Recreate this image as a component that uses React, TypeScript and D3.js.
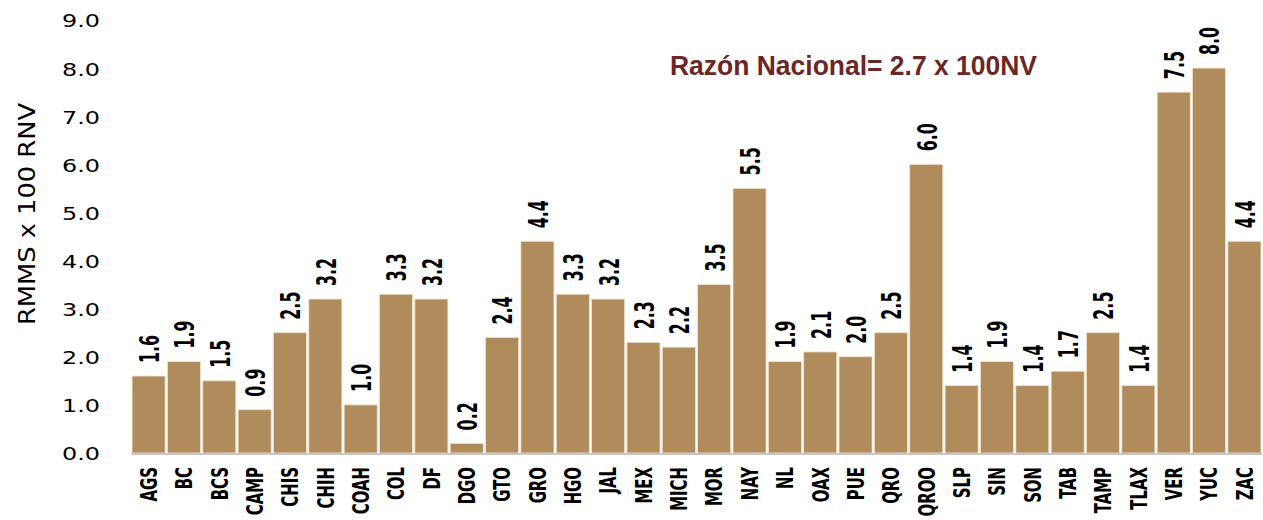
import React, { useEffect, useRef } from "react";
import * as d3 from "d3";

// estados y razón de mortalidad materna
const estados = [
  "AGS", "BC", "BCS", "CAMP", "CHIS", "CHIH", "COAH", "COL", "DF", "DGO", "GTO",
  "GRO", "HGO", "JAL", "MEX", "MICH", "MOR", "NAY", "NL", "OAX", "PUE", "QRO",
  "QROO", "SLP", "SIN", "SON", "TAB", "TAMP", "TLAX", "VER", "YUC", "ZAC",
];
const razon = [
  1.6, 1.9, 1.5, 0.9, 2.5, 3.2, 1.0, 3.3, 3.2, 0.2, 2.4,
  4.4, 3.3, 3.2, 2.3, 2.2, 3.5, 5.5, 1.9, 2.1, 2.0, 2.5,
  6.0, 1.4, 1.9, 1.4, 1.7, 2.5, 1.4, 7.5, 8.0, 4.4,
];
const yTicks = [0, 1, 2, 3, 4, 5, 6, 7, 8, 9];
const titulo = "Razón Nacional= 2.7 x 100NV";
const yTitulo = "RMMS x 100 RNV";

const W = 1263, H = 520;
const NARROW = "'DejaVu Sans Condensed', 'Liberation Sans Narrow', sans-serif";

export default function App() {
  const ref = useRef<SVGSVGElement>(null);

  useEffect(() => {
    const svg = d3.select(ref.current);
    svg.selectAll("*").remove();

    const x = d3.scaleBand<string>().domain(estados).range([131, 1262]).paddingInner(0.065).paddingOuter(0.03);
    const y = d3.scaleLinear().domain([0, 9]).range([453, 20]);

    // barras
    svg.append("g")
      .selectAll("rect")
      .data(estados)
      .enter().append("rect")
      .attr("x", (d) => x(d)!)
      .attr("width", x.bandwidth())
      .attr("y", (d, i) => y(razon[i]))
      .attr("height", (d, i) => y(0) - y(razon[i]))
      .attr("fill", "#B08C5C")
      .attr("stroke", "#EFE2CC")
      .attr("stroke-width", 0.8);

    // línea base
    svg.append("line")
      .attr("x1", 131).attr("x2", 1262)
      .attr("y1", y(0) + 1).attr("y2", y(0) + 1)
      .attr("stroke", "#C6C6C6").attr("stroke-width", 2);

    // ticks eje y
    svg.append("g")
      .selectAll("text")
      .data(yTicks)
      .enter().append("text")
      .attr("x", 100)
      .attr("y", (d) => y(d) + 1)
      .attr("dy", "0.36em")
      .attr("text-anchor", "end")
      .attr("font-family", "'DejaVu Sans', Verdana, sans-serif")
      .attr("font-size", 18)
      .attr("textLength", 38)
      .attr("lengthAdjust", "spacingAndGlyphs")
      .attr("fill", "#000")
      .text((d) => d.toFixed(1));

    // titulo eje y
    svg.append("text")
      .attr("transform", "translate(35,214) rotate(-90)")
      .attr("text-anchor", "middle")
      .attr("font-family", NARROW)
      .attr("font-size", 23)
      .attr("textLength", 222)
      .attr("lengthAdjust", "spacingAndGlyphs")
      .attr("fill", "#000")
      .text(yTitulo);

    // etiquetas eje x
    svg.append("g")
      .selectAll("text")
      .data(estados)
      .enter().append("text")
      .attr("transform", (d) => `translate(${x(d)! + x.bandwidth() / 2},467) rotate(-90) scale(0.72,1)`)
      .attr("dy", "0.36em")
      .attr("text-anchor", "end")
      .attr("font-family", NARROW)
      .attr("font-weight", "bold")
      .attr("font-size", 23)
      .attr("fill", "#000")
      .text((d) => d);

    // valores
    svg.append("g")
      .selectAll("text")
      .data(estados)
      .enter().append("text")
      .attr("transform", (d, i) => `translate(${x(d)! + x.bandwidth() / 2 + 1},${y(razon[i]) - 13}) rotate(-90) scale(0.68,1)`)
      .attr("dy", "0.36em")
      .attr("text-anchor", "start")
      .attr("font-family", NARROW)
      .attr("font-weight", "bold")
      .attr("font-size", 26)
      .attr("fill", "#000")
      .text((d, i) => razon[i].toFixed(1));

    // razón nacional
    svg.append("text")
      .attr("x", 670)
      .attr("y", 75)
      .attr("font-family", "'Liberation Sans', Arial, sans-serif")
      .attr("font-weight", "bold")
      .attr("font-size", 27)
      .attr("textLength", 367)
      .attr("lengthAdjust", "spacingAndGlyphs")
      .attr("fill", "#6B2626")
      .text(titulo);
  }, []);

  return (
    <svg
      ref={ref}
      width={W}
      height={H}
      style={{ position: "absolute", left: 0, top: 0, background: "#fff" }}
    />
  );
}
